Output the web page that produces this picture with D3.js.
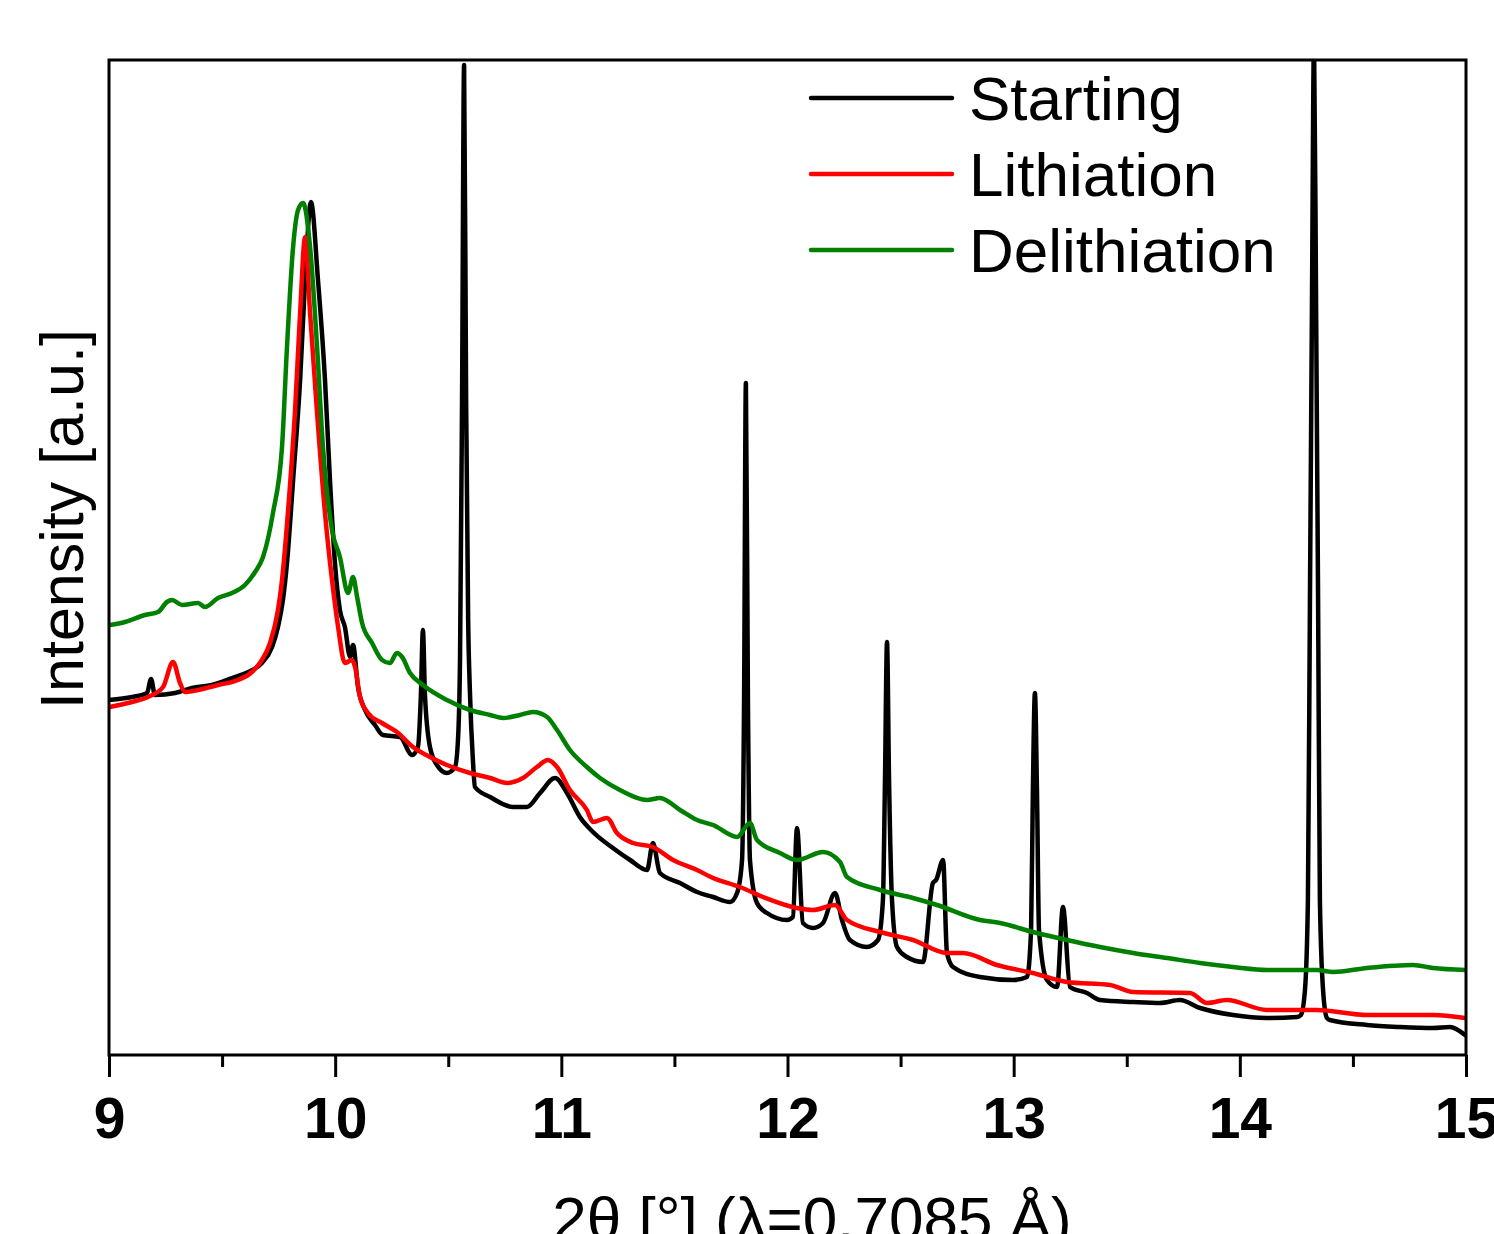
<!DOCTYPE html>
<html>
<head>
<meta charset="utf-8">
<script src="https://cdn.jsdelivr.net/npm/d3@7"></script>
<style>
  html, body { margin: 0; padding: 0; background: #fff; }
  svg { display: block; }
  text { font-family: "Liberation Sans", Arial, sans-serif; }
</style>
</head>
<body>
<svg id="chart" width="1494" height="1234"></svg>
<script>
// ---- data (2θ in degrees, intensity in arbitrary units) ----
const seriesNames = ["Starting", "Lithiation", "Delithiation"];
const seriesColors = ["#000000", "#ff0000", "#008000"];
const majorTicks = [9, 10, 11, 12, 13, 14, 15];
const minorTicks = [9.5, 10.5, 11.5, 12.5, 13.5, 14.5];
const xTitle = "2\u03B8 [\u00B0] (\u03BB=0.7085 \u00C5)";
const yTitle = "Intensity [a.u.]";

const starting = [
  [9.000,355],[9.102,358],[9.168,362],[9.186,376],[9.203,360],[9.292,362],[9.367,367],[9.455,370],
  [9.544,377],[9.615,383],[9.676,392],[9.721,408],[9.747,428],[9.769,455],[9.787,492],[9.814,575],
  [9.845,675],[9.867,775],[9.893,853],[9.924,775],[9.955,675],[9.977,575],[9.999,492],[10.021,445],
  [10.043,428],[10.066,398],[10.079,410],[10.101,368],[10.132,345],[10.176,330],[10.211,320],
  [10.287,318],[10.340,300],[10.366,308],[10.379,360],[10.388,425],[10.397,360],[10.419,308],
  [10.450,290],[10.494,282],[10.530,288],[10.543,315],[10.552,395],[10.561,655],[10.570,990],
  [10.579,655],[10.588,435],[10.596,362],[10.609,295],[10.618,268],[10.685,258],[10.786,248],
  [10.848,248],[10.906,262],[10.972,277],[11.025,262],[11.082,238],[11.140,223],[11.228,207],
  [11.304,195],[11.379,185],[11.405,212],[11.436,182],[11.525,172],[11.600,163],[11.671,158],
  [11.746,153],[11.777,162],[11.799,195],[11.808,355],[11.816,672],[11.825,355],[11.834,195],
  [11.865,152],[11.909,142],[11.998,135],[12.024,138],[12.042,227],[12.068,132],[12.113,127],
  [12.157,132],[12.210,162],[12.241,135],[12.276,115],[12.351,108],[12.400,115],[12.422,155],
  [12.431,275],[12.440,413],[12.449,275],[12.462,155],[12.484,108],[12.528,98],[12.599,93],
  [12.643,172],[12.657,175],[12.688,195],[12.705,102],[12.732,88],[12.851,78],[12.997,75],
  [13.059,78],[13.077,125],[13.085,265],[13.094,362],[13.103,265],[13.112,125],[13.147,75],
  [13.192,68],[13.218,148],[13.249,68],[13.324,62],[13.382,55],[13.528,53],[13.647,52],
  [13.735,55],[13.824,47],[13.970,40],[14.120,37],[14.253,38],[14.270,40],[14.288,65],
  [14.301,155],[14.310,455],[14.319,755],[14.328,1015],[14.337,755],[14.346,455],[14.354,155],
  [14.368,65],[14.385,37],[14.398,35],[14.562,30],[14.708,28],[14.854,27],[14.929,28],[14.996,20]
];

const lithiation = [
  [9.004,348],[9.102,353],[9.172,358],[9.239,368],[9.283,393],[9.314,372],[9.336,363],[9.394,365],
  [9.482,370],[9.570,375],[9.632,383],[9.676,395],[9.712,412],[9.747,445],[9.765,475],[9.791,542],
  [9.822,642],[9.845,742],[9.867,818],[9.889,742],[9.920,642],[9.955,542],[9.986,475],[10.013,428],
  [10.043,392],[10.074,395],[10.088,388],[10.110,358],[10.145,342],[10.207,332],[10.273,323],
  [10.344,308],[10.419,298],[10.494,290],[10.596,282],[10.685,277],[10.760,272],[10.830,277],
  [10.892,288],[10.941,295],[10.981,288],[11.038,265],[11.113,245],[11.140,233],[11.202,237],
  [11.246,222],[11.317,212],[11.405,208],[11.494,195],[11.600,185],[11.671,177],[11.790,168],
  [11.892,158],[12.042,147],[12.113,145],[12.210,150],[12.263,135],[12.409,123],[12.555,115],
  [12.705,102],[12.776,102],[12.926,90],[13.085,82],[13.236,73],[13.426,70],[13.528,63],
  [13.780,62],[13.855,52],[13.943,55],[14.120,45],[14.341,45],[14.562,40],[14.854,40],[14.996,37]
];

const delithiation = [
  [9.004,430],[9.071,433],[9.159,440],[9.217,443],[9.256,453],[9.279,455],[9.323,450],[9.394,452],
  [9.424,448],[9.482,457],[9.544,462],[9.601,470],[9.646,483],[9.681,498],[9.725,542],[9.765,608],
  [9.787,708],[9.814,808],[9.836,845],[9.858,852],[9.889,808],[9.920,708],[9.946,608],[9.986,525],
  [10.021,498],[10.057,462],[10.079,478],[10.097,458],[10.119,432],[10.163,412],[10.207,395],
  [10.242,392],[10.273,402],[10.296,398],[10.331,382],[10.388,370],[10.494,355],[10.596,345],
  [10.685,340],[10.742,337],[10.817,340],[10.875,343],[10.937,338],[10.981,325],[11.038,305],
  [11.113,288],[11.171,277],[11.259,265],[11.379,255],[11.436,257],[11.525,245],[11.600,235],
  [11.671,230],[11.777,218],[11.834,232],[11.865,215],[11.967,202],[12.042,195],[12.157,203],
  [12.232,193],[12.263,178],[12.409,165],[12.555,157],[12.661,150],[12.851,135],[12.940,132],
  [13.085,123],[13.236,115],[13.382,108],[13.528,102],[13.678,97],[13.824,92],[13.970,88],
  [14.120,85],[14.341,85],[14.412,83],[14.562,87],[14.766,90],[14.854,87],[14.996,85]
];

const allSeries = [starting, lithiation, delithiation];

// ---- layout ----
const svg = d3.select("#chart");
const L = 109, R = 1466, T = 60, B = 1055;
const x = d3.scaleLinear().domain([9, 15]).range([L, R]);
const y = d3.scaleLinear().domain([0, 995]).range([B, T]);

svg.append("defs").append("clipPath").attr("id", "plotclip")
  .append("rect").attr("x", L).attr("y", T).attr("width", R - L).attr("height", B - T);

const line = d3.line().x(d => x(d[0])).y(d => y(d[1])).curve(d3.curveMonotoneX);

const plot = svg.append("g").attr("clip-path", "url(#plotclip)");
allSeries.forEach((s, i) => {
  plot.append("path").datum(s)
    .attr("d", line)
    .attr("fill", "none")
    .attr("stroke", seriesColors[i])
    .attr("stroke-width", 4.5)
    .attr("stroke-linejoin", "round")
    .attr("stroke-linecap", "round");
});

// frame
svg.append("rect").attr("x", L).attr("y", T).attr("width", R - L).attr("height", B - T)
  .attr("fill", "none").attr("stroke", "#000").attr("stroke-width", 3);

// major ticks + labels
const xAxis = d3.axisBottom(x).tickValues(majorTicks).tickSize(22).tickFormat(d3.format("d"));
const gx = svg.append("g").attr("transform", `translate(0,${B})`).call(xAxis);
gx.select(".domain").remove();
gx.selectAll(".tick line").attr("stroke", "#000").attr("stroke-width", 3);
gx.selectAll(".tick text")
  .attr("y", 83).attr("dy", 0)
  .attr("fill", "#000")
  .style("font-family", '"Liberation Sans", Arial, sans-serif')
  .style("font-size", "57px").style("font-weight", "bold");

// minor ticks
const xMinor = d3.axisBottom(x).tickValues(minorTicks).tickSize(12).tickFormat("");
const gm = svg.append("g").attr("transform", `translate(0,${B})`).call(xMinor);
gm.select(".domain").remove();
gm.selectAll(".tick line").attr("stroke", "#000").attr("stroke-width", 3);

// axis titles
svg.append("text").attr("x", 812).attr("y", 1240)
  .attr("text-anchor", "middle").style("font-size", "62px").attr("fill", "#000")
  .text(xTitle);
svg.append("text")
  .attr("transform", "translate(83,519) rotate(-90)")
  .attr("text-anchor", "middle").style("font-size", "61px").attr("fill", "#000")
  .text(yTitle);

// legend
const legY = [98, 174, 250];
seriesNames.forEach((n, i) => {
  svg.append("line").attr("x1", 811).attr("x2", 952).attr("y1", legY[i]).attr("y2", legY[i])
    .attr("stroke", seriesColors[i]).attr("stroke-width", 4.5).attr("stroke-linecap", "round");
  svg.append("text").attr("x", 969).attr("y", legY[i] + 22)
    .style("font-size", "62px").attr("fill", "#000").text(n);
});
</script>
</body>
</html>
